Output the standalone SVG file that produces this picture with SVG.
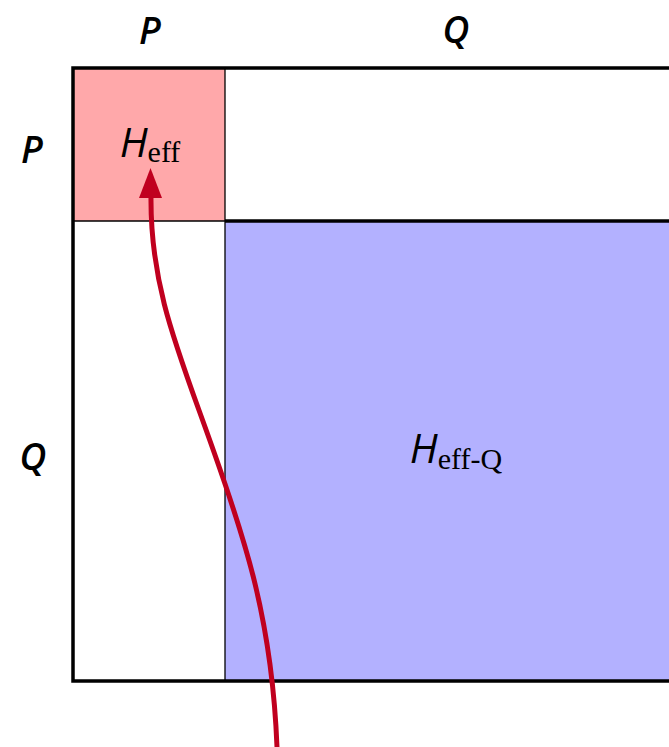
<svg xmlns="http://www.w3.org/2000/svg" width="669" height="747" viewBox="0 0 669 747">
<style>
.lbl{font-family:"Open Sans","DejaVu Sans",sans-serif;font-style:italic;font-weight:600;font-size:37px;fill:#000;text-anchor:middle}
.h{font-family:"Open Sans","DejaVu Sans",sans-serif;font-style:italic;font-size:41px}
.sub{font-family:"Liberation Serif","DejaVu Serif",serif;font-style:normal;font-size:30px}
.thick{stroke:#000;stroke-width:3.5;fill:none}
.thin{stroke:#000;stroke-width:1.3;fill:none}
</style>
<rect width="669" height="747" fill="#fff"/>
<g id="block-PP">
<rect x="73" y="68" width="152" height="153" fill="#ffa8aa"/>
<text x="150" y="157" text-anchor="middle"><tspan class="h">H</tspan><tspan class="sub" dy="5">eff</tspan></text>
</g>
<g id="block-QQ">
<rect x="225" y="221" width="450" height="460" fill="#b3b1ff"/>
<text x="456" y="463" text-anchor="middle"><tspan class="h">H</tspan><tspan class="sub" dy="6">eff-Q</tspan></text>
</g>
<g id="grid">
<line class="thin" x1="225" y1="68" x2="225" y2="681"/>
<line class="thin" x1="73" y1="221" x2="225" y2="221"/>
<line class="thick" x1="225" y1="221" x2="669" y2="221"/>
<polyline class="thick" points="669,68 73,68 73,681 669,681"/>
</g>
<g id="labels">
<text class="lbl" x="150" y="44">P</text>
<text class="lbl" x="456" y="43">Q</text>
<text class="lbl" x="32" y="163">P</text>
<text class="lbl" x="33" y="470">Q</text>
</g>
<g id="connectors">
<path d="M277,747 C272,620 245,540 215,455 C180,355 150,290 151,196" fill="none" stroke="#c0001f" stroke-width="5"/>
<path d="M150.5,168 L162,198 L139,198 Z" fill="#c0001f"/>
</g>
</svg>
